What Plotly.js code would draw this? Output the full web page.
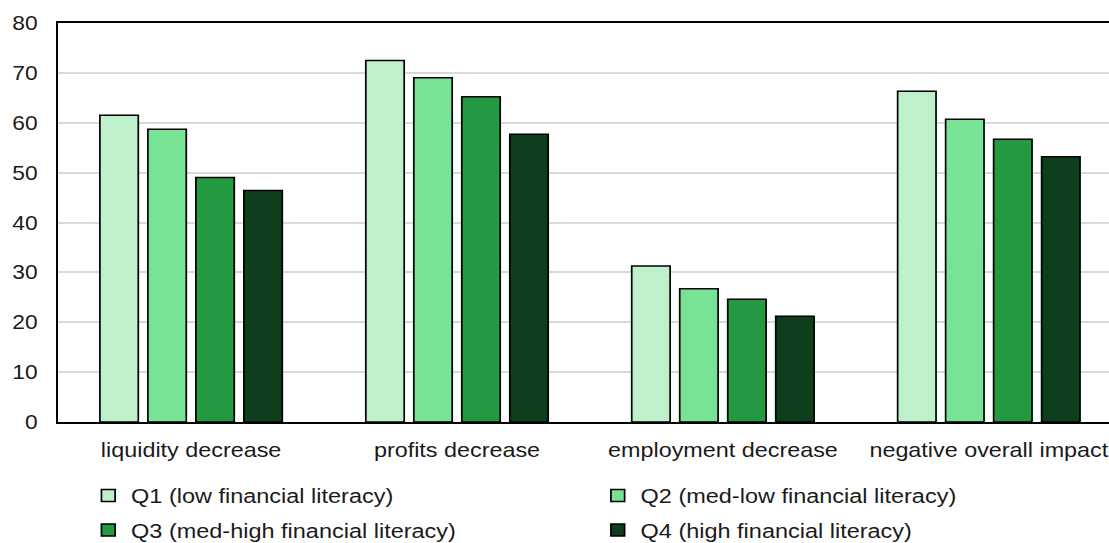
<!DOCTYPE html>
<html>
<head>
<meta charset="utf-8">
<script src="https://cdn.plot.ly/plotly-3.0.1.min.js"></script>
<style>
  html, body { margin: 0; padding: 0; background: #fff; overflow: hidden; }
  #wrap { width: 1109px; height: 543px; overflow: hidden; }
  /* the chart is laid out narrower and widened horizontally */
  #chart { width: 973px; height: 543px; transform: scaleX(1.1398); transform-origin: 0 0; }
</style>
</head>
<body>
<div id="wrap"><div id="chart"></div></div>
<script>
// Share of firms reporting each impact, by financial-literacy quartile (%)
const categories = ['liquidity decrease', 'profits decrease', 'employment decrease', 'negative overall impact'];
const q1Values = [61.5, 72.5, 31.3, 66.3];
const q2Values = [58.7, 69.0, 26.7, 60.7];
const q3Values = [49.0, 65.2, 24.6, 56.7];
const q4Values = [46.4, 57.7, 21.2, 53.2];
const seriesNames = [
  'Q1 (low financial literacy)',
  'Q2 (med-low financial literacy)',
  'Q3 (med-high financial literacy)',
  'Q4 (high financial literacy)'
];
const yTickValues = [0, 10, 20, 30, 40, 50, 60, 70, 80];

const colors = ['#bff0cc', '#79e395', '#239a42', '#0d3f1c'];
const seriesValues = [q1Values, q2Values, q3Values, q4Values];
const legendIds = ['legend', 'legend2', 'legend3', 'legend4'];
const textColor = '#1a1a1a';
const fontFamily = 'Liberation Sans, Arial, sans-serif';

const traces = seriesValues.map((vals, i) => ({
  type: 'bar',
  name: seriesNames[i],
  x: categories,
  y: vals,
  legend: legendIds[i],
  marker: { color: colors[i], line: { color: '#000', width: 1.5 } },
  hoverinfo: 'skip'
}));

const W = 973, H = 543;
// legend entries: two columns, two rows
const legendPos = [
  { x: 75, y: 495.5 },
  { x: 522, y: 495.5 },
  { x: 75, y: 530 },
  { x: 522, y: 530 }
];

const layout = {
  width: W,
  height: H,
  margin: { l: 51.4, r: 0, t: 23, b: 121, pad: 0, autoexpand: false },
  paper_bgcolor: '#fff',
  plot_bgcolor: '#fff',
  font: { family: fontFamily, size: 20, color: textColor },
  bargap: 0.278,
  bargroupgap: 0.2,
  barmode: 'group',
  xaxis: {
    type: 'category',
    range: [-0.5, 3.452],
    showline: true,
    linecolor: '#000',
    linewidth: 2,
    mirror: true,
    ticks: '',
    tickangle: 0,
    automargin: false,
    showgrid: false,
    tickfont: { size: 20.5, color: textColor, family: fontFamily },
    ticklabelstandoff: 8
  },
  yaxis: {
    range: [0, 80],
    tickvals: yTickValues,
    ticktext: yTickValues.map(String),
    showline: true,
    linecolor: '#000',
    linewidth: 2,
    showgrid: true,
    gridcolor: '#d9d9d9',
    gridwidth: 2,
    zeroline: false,
    ticks: '',
    automargin: false,
    tickfont: { size: 20, color: textColor, family: fontFamily },
    ticklabelstandoff: 12
  },
  showlegend: true
};

legendIds.forEach((id, i) => {
  layout[id] = {
    xref: 'container',
    yref: 'container',
    x: legendPos[i].x / W,
    y: 1 - legendPos[i].y / H,
    xanchor: 'left',
    yanchor: 'middle',
    bgcolor: 'rgba(0,0,0,0)',
    borderwidth: 0,
    itemwidth: 30,
    font: { size: 20.6, color: textColor, family: fontFamily }
  };
});

Plotly.newPlot('chart', traces, layout, { staticPlot: true, displayModeBar: false });
</script>
</body>
</html>
